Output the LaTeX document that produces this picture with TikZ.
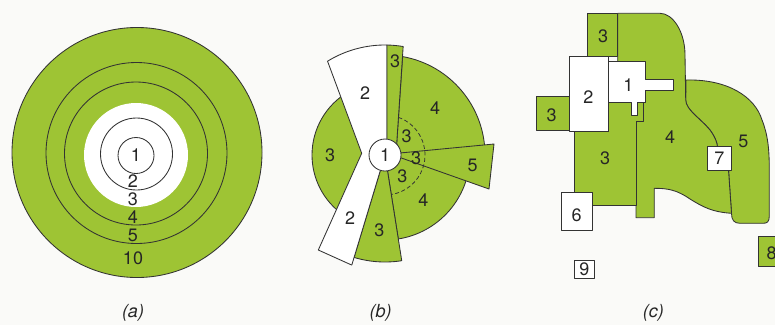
\documentclass[tikz,border=0pt]{standalone}
\usepackage{fontspec}
\setmainfont{TeX Gyre Heros}
\definecolor{leaf}{RGB}{158,196,52}
\definecolor{bg}{RGB}{250,250,248}
\begin{document}
\begin{tikzpicture}[x=1pt,y=-1pt,line join=round,
  ln/.style={draw=black!80,line width=0.85pt},
  gr/.style={ln,fill=leaf},
  wh/.style={ln,fill=white},
  lab/.style={font=\fontsize{18}{21}\selectfont,text=black!85,inner sep=0pt},
  capt/.style={font=\fontsize{18}{22}\selectfont\itshape,text=black!85,inner sep=0pt}]
\useasboundingbox (0,0) rectangle (775,325);
\clip (0,0) rectangle (775,325);
\fill[bg] (0,0) rectangle (775,325);

% ---------------- (a)
\path[gr] (137,152.5) circle[radius=125];
\path[ln] (136.5,153) circle[radius=90.5];
\path[ln] (136,153.5) circle[radius=71.5];
\fill[white] (136,155) circle[radius=52];
\path[ln] (136.5,154) circle[radius=36];
\path[ln] (136,155.5) circle[radius=18];
\node[lab] (a1) at (136,155) {1};
\node[lab] (a2) at (133,181) {2};
\node[lab] (a3) at (133,199) {3};
\node[lab] (a4) at (133,217.5) {4};
\node[lab] (a5) at (133,235.5) {5};
\node[lab] (a10) at (133,258) {10};
\node[capt] (capa) at (133,313) {(a)};

% ---------------- (b)
\path[gr] (385,155) -- ++(-120:73) arc[start angle=-120,end angle=-235,radius=73] -- cycle;
\path[gr] (396.7,143.3) -- (402.63,56.57) arc[start angle=-79.85,end angle=0,radius=100] -- (400,153) -- cycle;
\path[gr] (385,155) -- ++(81:85) arc[start angle=81,end angle=5,radius=85] -- cycle;
\path[gr] (385,155) -- ++(106.8:107) arc[start angle=106.8,end angle=81,radius=107] -- cycle;
\path[wh] (327.54,61.2) arc[start angle=-121.5,end angle=-88.96,radius=110] -- (387,150) -- (385,155) -- ++(106.8:115) -- (318.3,250) -- (361.7,153.3) -- cycle;
\path[gr] (387,150) -- (387,45.02) arc[start angle=-88.96,end angle=-80.5,radius=110] -- (396.7,143.3) -- cycle;
\path[gr] (400,153) -- (494,144) -- (489,189) -- (400,157.5) -- cycle;
\draw[draw=black!80,line width=0.75pt,dash pattern=on 4pt off 2.5pt] (385,155) ++(-70.3:40) arc[start angle=-70.3,end angle=81,radius=40];
\path[wh] (385,155) circle[radius=16];
\node[lab] (b1) at (385,155) {1};
\node[lab] (b3s) at (395,61.7) {3};
\node[lab] (b2u) at (365,93.3) {2};
\node[lab] (b4u) at (435,108.3) {4};
\node[lab] (b3l) at (330,155) {3};
\node[lab] (b3a) at (406.7,136.7) {3};
\node[lab] (b3b) at (416,158.3) {3};
\node[lab] (b3c) at (402.3,176.7) {3};
\node[lab] (b5) at (472.7,165) {5};
\node[lab] (b4d) at (423.3,200) {4};
\node[lab] (b2d) at (350,218.3) {2};
\node[lab] (b3d) at (379.3,230) {3};
\node[capt] (capb) at (380.7,313.3) {(b)};

% ---------------- (c)
\path[gr] (686,80) .. controls (728,79) and (755,97) .. (762,120) .. controls (768,135) and (769.3,150) .. (769.3,170) -- (769.3,216) .. controls (769.3,222) and (767,223.3) .. (763,223.3) -- (740,223.3) .. controls (734,223.3) and (731.5,220) .. (731.5,213.3) -- (728.5,170) -- (717.5,147) .. controls (717,142) and (715,137) .. (710,130) .. controls (700,118) and (686,110) .. (685.7,100) -- cycle;
\path[gr] (617.7,13.3) -- (660,13.3) .. controls (673,13.3) and (685,32) .. (685,55) -- (685.7,100) .. controls (686,110) and (700,118) .. (710,130) .. controls (715,137) and (717,142) .. (717.5,147) -- (728.5,170) -- (731.5,213.3) .. controls (712,212) and (703,207) .. (690,199) .. controls (677,190) and (668,188.3) .. (654.3,188.3) -- (654.3,217.7) -- (636,217.7) -- (636,121) -- (643,121) -- (643,61.7) -- (617.7,61.7) -- cycle;
\path[gr] (587.7,13.3) rectangle (617.7,56.7);
\path[gr] (536.7,96) rectangle (569.3,130.7);
\path[gr] (574.3,131.7) -- (608.3,131.7) -- (608.3,102.7) -- (643,102.7) -- (643,121) -- (636,121) -- (636,205) -- (592.7,205) -- (592.7,192.7) -- (574.3,192.7) -- cycle;
\path[wh] (608.3,61.7) -- (645,61.7) -- (645,79.3) -- (673.3,79.3) -- (673.3,90) -- (645,90) -- (645,102.7) -- (637.7,102.7) -- (637.7,115) -- (631.7,115) -- (631.7,102.7) -- (608.3,102.7) -- cycle;
\path[wh] (569.3,56.7) rectangle (608.3,131.7);
\path[wh] (561.7,192.7) rectangle (592.7,230.7);
\path[wh] (707.7,146.7) rectangle (731,170);
\path[gr] (758.3,236.7) rectangle (785,266.7);
\path[wh] (574.3,260) rectangle (594,278.3);
\node[lab] (c3t) at (603,36.7) {3};
\node[lab] (c2) at (588.3,96.7) {2};
\node[lab] (c1) at (628.3,85) {1};
\node[lab] (c3l) at (551.7,115) {3};
\node[lab] (c3d) at (605,158.3) {3};
\node[lab] (c4) at (670,136.7) {4};
\node[lab] (c5) at (743.3,141.7) {5};
\node[lab] (c7) at (719.3,158.3) {7};
\node[lab] (c6) at (576.7,215) {6};
\node[lab] (c8) at (771.7,253) {8};
\node[lab] (c9) at (584.3,269.3) {9};
\node[capt] (capc) at (653.3,313.3) {(c)};
\end{tikzpicture}
\end{document}
